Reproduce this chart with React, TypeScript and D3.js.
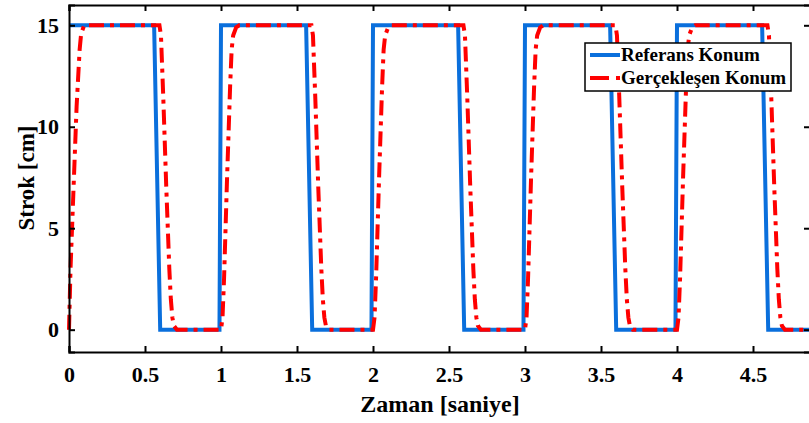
import { useEffect, useRef } from 'react';
import * as d3 from 'd3';

// reference position (blue)
const refTime = [0, 0.56, 0.6, 0.99, 1.0, 1.56, 1.6, 1.99, 2.0, 2.56, 2.6, 2.99, 3.0, 3.56, 3.6, 3.99, 4.0, 4.56, 4.6, 4.9];
const refPos = [15, 15, 0, 0, 15, 15, 0, 0, 15, 15, 0, 0, 15, 15, 0, 0, 15, 15, 0, 0];

// measured position (red)
const actTime = [
  0, 0.01, 0.03, 0.05, 0.07, 0.08, 0.1,
  0.595, 0.605, 0.62, 0.64, 0.66, 0.67, 0.68, 0.69, 0.71,
  1.0, 1.01, 1.02, 1.04, 1.06, 1.07, 1.08, 1.1, 1.12,
  1.595, 1.605, 1.62, 1.64, 1.66, 1.67, 1.68, 1.69, 1.71,
  2.0, 2.01, 2.02, 2.04, 2.06, 2.07, 2.08, 2.1, 2.12,
  2.595, 2.605, 2.62, 2.64, 2.66, 2.67, 2.68, 2.69, 2.71,
  3.0, 3.01, 3.02, 3.04, 3.06, 3.07, 3.08, 3.1, 3.12,
  3.595, 3.605, 3.62, 3.64, 3.66, 3.67, 3.68, 3.69, 3.71,
  4.0, 4.01, 4.02, 4.04, 4.06, 4.07, 4.08, 4.1, 4.12,
  4.595, 4.605, 4.62, 4.64, 4.66, 4.67, 4.68, 4.69, 4.71,
  4.9,
];
const actPos = [
  0, 3, 7, 11, 13.8, 14.6, 15,
  15, 14.5, 11.5, 7, 3, 1.5, 0.6, 0.2, 0,
  0, 0.6, 2.5, 7.5, 12, 13.8, 14.5, 14.9, 15,
  15, 14.5, 11.5, 7, 3, 1.5, 0.6, 0.2, 0,
  0, 0.6, 2.5, 7.5, 12, 13.8, 14.5, 14.9, 15,
  15, 14.5, 11.5, 7, 3, 1.5, 0.6, 0.2, 0,
  0, 0.6, 2.5, 7.5, 12, 13.8, 14.5, 14.9, 15,
  15, 14.5, 11.5, 7, 3, 1.5, 0.6, 0.2, 0,
  0, 0.6, 2.5, 7.5, 12, 13.8, 14.5, 14.9, 15,
  15, 14.5, 11.5, 7, 3, 1.5, 0.6, 0.2, 0,
  0,
];

const xTicks = [0, 0.5, 1, 1.5, 2, 2.5, 3, 3.5, 4, 4.5];
const yTicks = [0, 5, 10, 15];
const legendLabels = ['Referans Konum', 'Gerçekleşen Konum'];

const W = 809;
const H = 423;
const FONT = 'Liberation Serif, serif';
const BLUE = '#0a6fdc';
const RED = '#ff0000';

export default function App() {
  const axRef = useRef<SVGGElement>(null);

  const x = d3.scaleLinear().domain([0, 4.875]).range([69, 810]);
  const y = d3.scaleLinear().domain([-1.1, 16]).range([352, 5]);

  const refPath = d3.line<number>()
    .x((_, i) => x(refTime[i]))
    .y((d) => y(d))(refPos);
  const actPath = d3.line<number>()
    .x((_, i) => x(actTime[i]))
    .y((d) => y(d))(actPos);

  useEffect(() => {
    const g = d3.select(axRef.current);
    g.selectAll('*').remove();
    const [x0, x1] = x.range();
    const [y0, y1] = y.range();

    const bottom = g.append('g').attr('transform', `translate(0,${y0})`)
      .call(d3.axisBottom(x).tickValues(xTicks).tickSize(-6).tickPadding(14).tickFormat(d3.format('')));
    const top = g.append('g').attr('transform', `translate(0,${y1})`)
      .call(d3.axisTop(x).tickValues(xTicks).tickSize(-6).tickFormat(() => ''));
    const left = g.append('g').attr('transform', `translate(${x0},0)`)
      .call(d3.axisLeft(y).tickValues(yTicks).tickSize(-6).tickPadding(10));
    const right = g.append('g').attr('transform', `translate(${x1},0)`)
      .call(d3.axisRight(y).tickValues(yTicks).tickSize(-6).tickFormat(() => ''));

    [bottom, top, left, right].forEach((a) => {
      a.attr('font-family', FONT).attr('font-size', 22).attr('font-weight', 'bold');
      a.select('.domain').attr('stroke', '#000').attr('stroke-width', 2);
      a.selectAll('.tick line').attr('stroke', '#000').attr('stroke-width', 2);
      a.selectAll('.tick text').attr('fill', '#000');
    });
  }, []);

  return (
    <svg width={W} height={H} style={{ position: 'absolute', left: 0, top: 0, background: '#fff' }}>
      <rect x={0} y={0} width={W} height={H} fill="#fff" />
      <path d={refPath ?? ''} fill="none" stroke={BLUE} strokeWidth={4} />
      <path d={actPath ?? ''} fill="none" stroke={RED} strokeWidth={4} strokeDasharray="15,6,4,6" />
      <g ref={axRef} />

      <g transform="translate(585,43)">
        <rect x={0} y={0} width={206} height={48} fill="#fff" stroke="#000" strokeWidth={1.5} />
        <line x1={5} x2={35} y1={12} y2={12} stroke={BLUE} strokeWidth={4} />
        <line x1={5} x2={35} y1={35} y2={35} stroke={RED} strokeWidth={4} strokeDasharray="19,7,5,7" />
        {legendLabels.map((t, i) => (
          <text key={t} x={36} y={18 + i * 23} fontFamily={FONT} fontWeight="bold" fontSize={19} fill="#000">
            {t}
          </text>
        ))}
      </g>

      <text x={440} y={412} textAnchor="middle" fontFamily={FONT} fontWeight="bold" fontSize={24} fill="#000">
        Zaman [saniye]
      </text>
      <text transform="translate(34,178) rotate(-90)" textAnchor="middle" fontFamily={FONT} fontWeight="bold" fontSize={23} fill="#000">
        Strok [cm]
      </text>
    </svg>
  );
}
